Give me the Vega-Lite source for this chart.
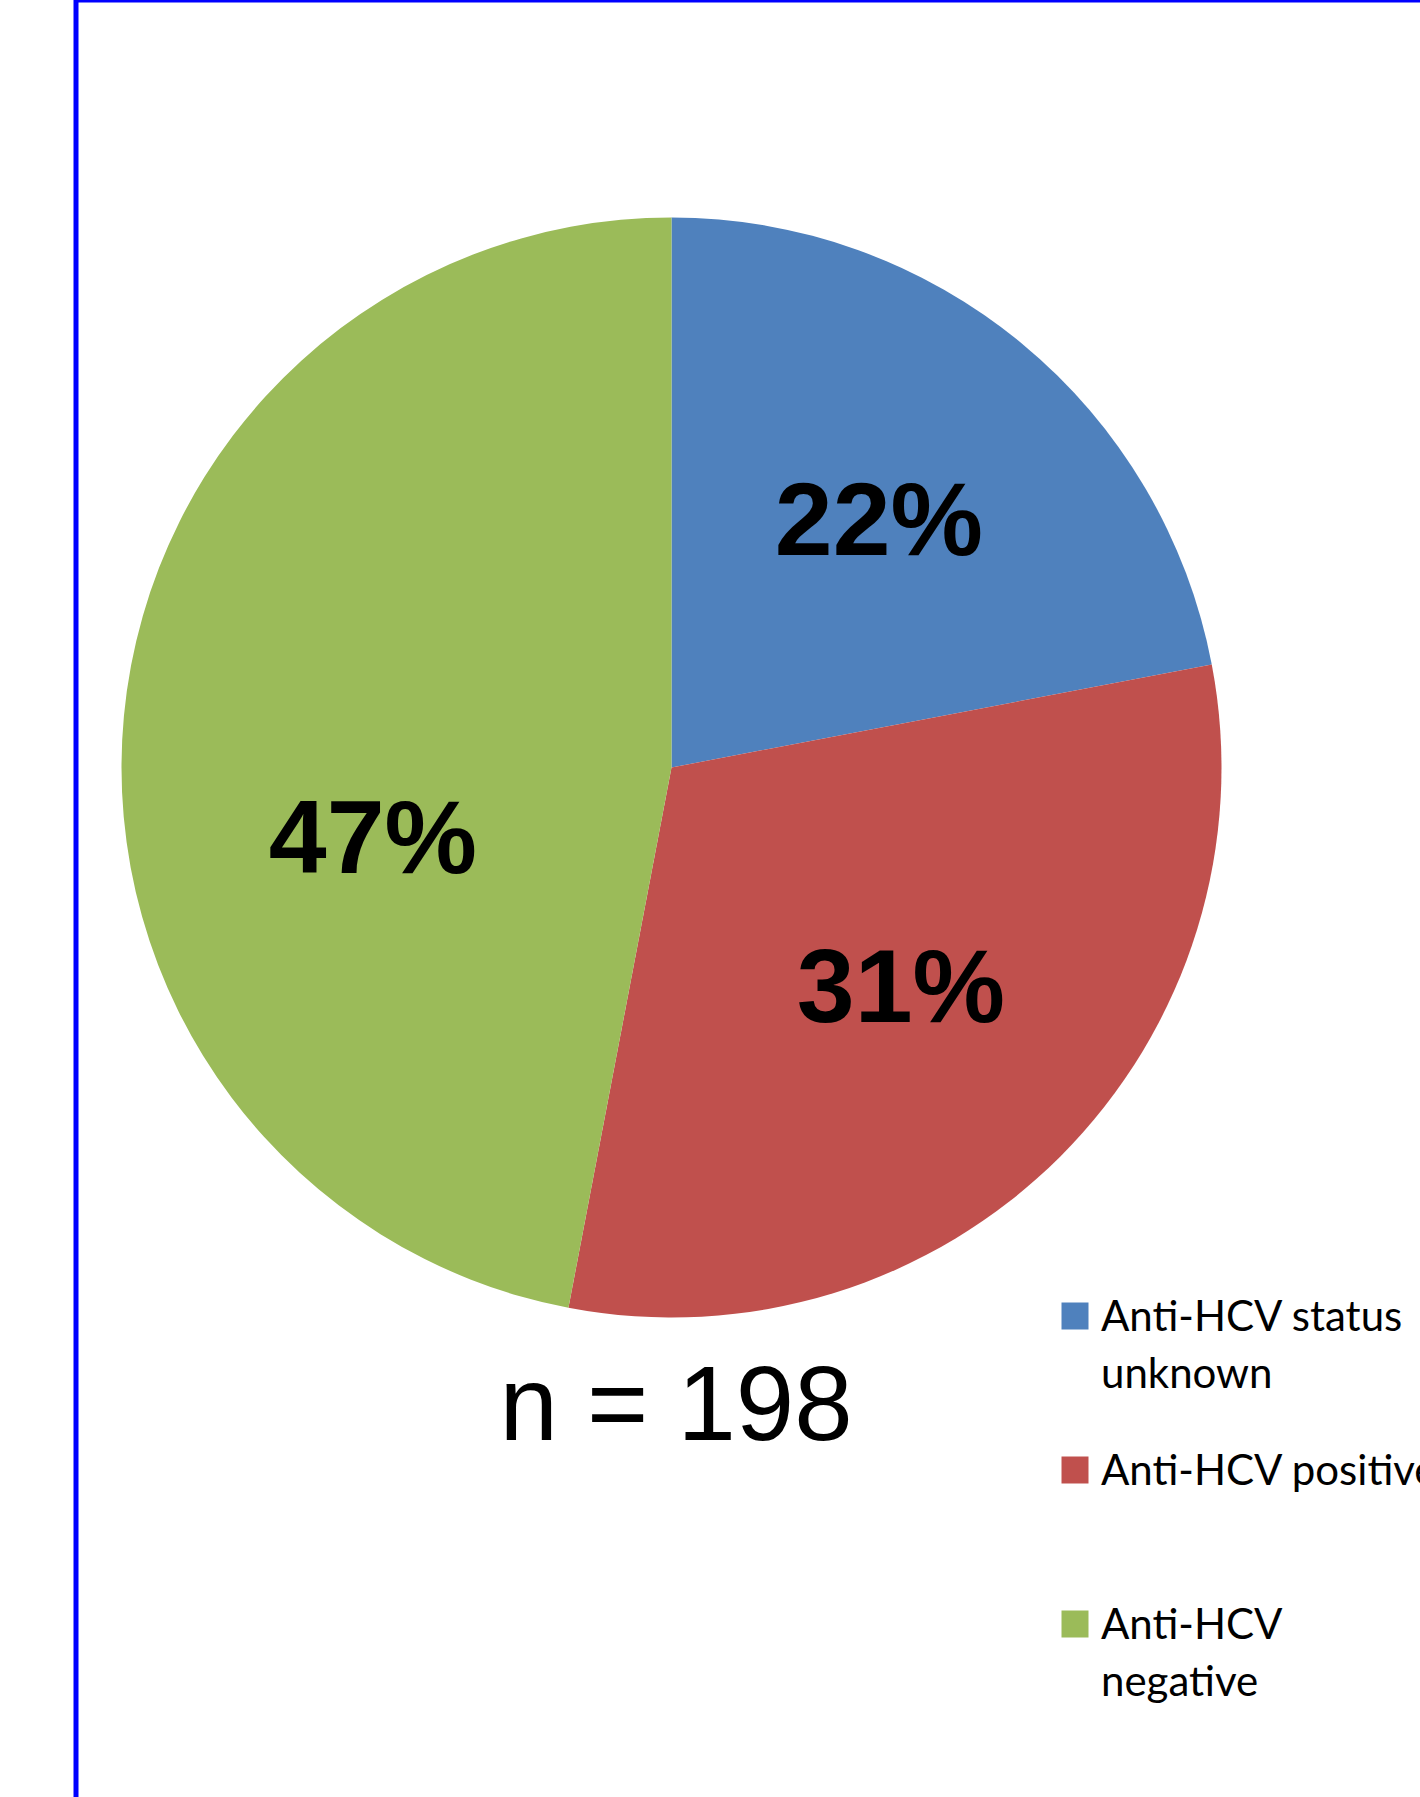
{
  "$schema": "https://vega.github.io/schema/vega-lite/v6.json",
  "autosize": {"type": "none"},
  "padding": {"left": 76, "top": 0, "right": -20, "bottom": -33},
  "width": 1364,
  "height": 1830,
  "background": "white",
  "view": {"stroke": "#0000FF", "strokeWidth": 5},
  "title": {
    "text": "n = 198",
    "orient": "top",
    "anchor": "start",
    "align": "center",
    "dx": 600,
    "dy": 1545,
    "offset": 0,
    "baseline": "alphabetic",
    "font": "Liberation Sans",
    "fontSize": 105,
    "fontWeight": "normal",
    "color": "black"
  },
  "data": {
    "values": [
      {"status": "Anti-HCV status unknown", "share": 0.22, "rank": 1},
      {"status": "Anti-HCV positive", "share": 0.31, "rank": 2},
      {"status": "Anti-HCV negative", "share": 0.47, "rank": 3}
    ]
  },
  "encoding": {
    "theta": {"field": "share", "type": "quantitative", "stack": true},
    "order": {"field": "rank", "type": "quantitative"},
    "color": {
      "field": "status",
      "type": "nominal",
      "scale": {
        "domain": ["Anti-HCV status unknown", "Anti-HCV positive", "Anti-HCV negative"],
        "range": ["#4F81BD", "#C0504D", "#9BBB59"]
      },
      "legend": {
        "orient": "none",
        "legendX": 978,
        "legendY": 1295,
        "padding": 0,
        "title": null,
        "symbolType": "square",
        "symbolSize": 729,
        "symbolStrokeWidth": 0,
        "symbolOpacity": 1,
        "labelFont": "Lato",
        "labelFontSize": 42,
        "labelColor": "black",
        "labelLimit": 0,
        "labelOffset": 5,
        "labelBaseline": "alphabetic",
        "gridAlign": "all",
        "rowPadding": 53,
        "labelExpr": "datum.label == 'Anti-HCV status unknown' ? ['Anti-HCV status', 'unknown'] : datum.label == 'Anti-HCV negative' ? ['Anti-HCV', 'negative'] : datum.label",
        "encode": {
          "labels": {"update": {"dy": {"value": 14.5}, "lineHeight": {"value": 57}}}
        }
      }
    }
  },
  "layer": [
    {"mark": {"type": "arc", "outerRadius": 550, "x": 595.5, "y": 767.5}},
    {
      "mark": {"type": "text", "radius": 316, "x": 595.5, "y": 767.5, "dx": 6, "font": "Liberation Sans", "fontWeight": "bold", "fontSize": 104},
      "encoding": {
        "text": {"field": "share", "type": "quantitative", "format": ".0%"},
        "color": {"value": "black"},
        "opacity": {"condition": {"test": "datum.status == 'Anti-HCV negative'", "value": 0}, "value": 1}
      }
    },
    {
      "mark": {"type": "text", "radius": 316, "x": 595.5, "y": 767.5, "dx": 16, "dy": 104, "font": "Liberation Sans", "fontWeight": "bold", "fontSize": 104},
      "encoding": {
        "text": {"field": "share", "type": "quantitative", "format": ".0%"},
        "color": {"value": "black"},
        "opacity": {"condition": {"test": "datum.status == 'Anti-HCV negative'", "value": 1}, "value": 0}
      }
    }
  ]
}
